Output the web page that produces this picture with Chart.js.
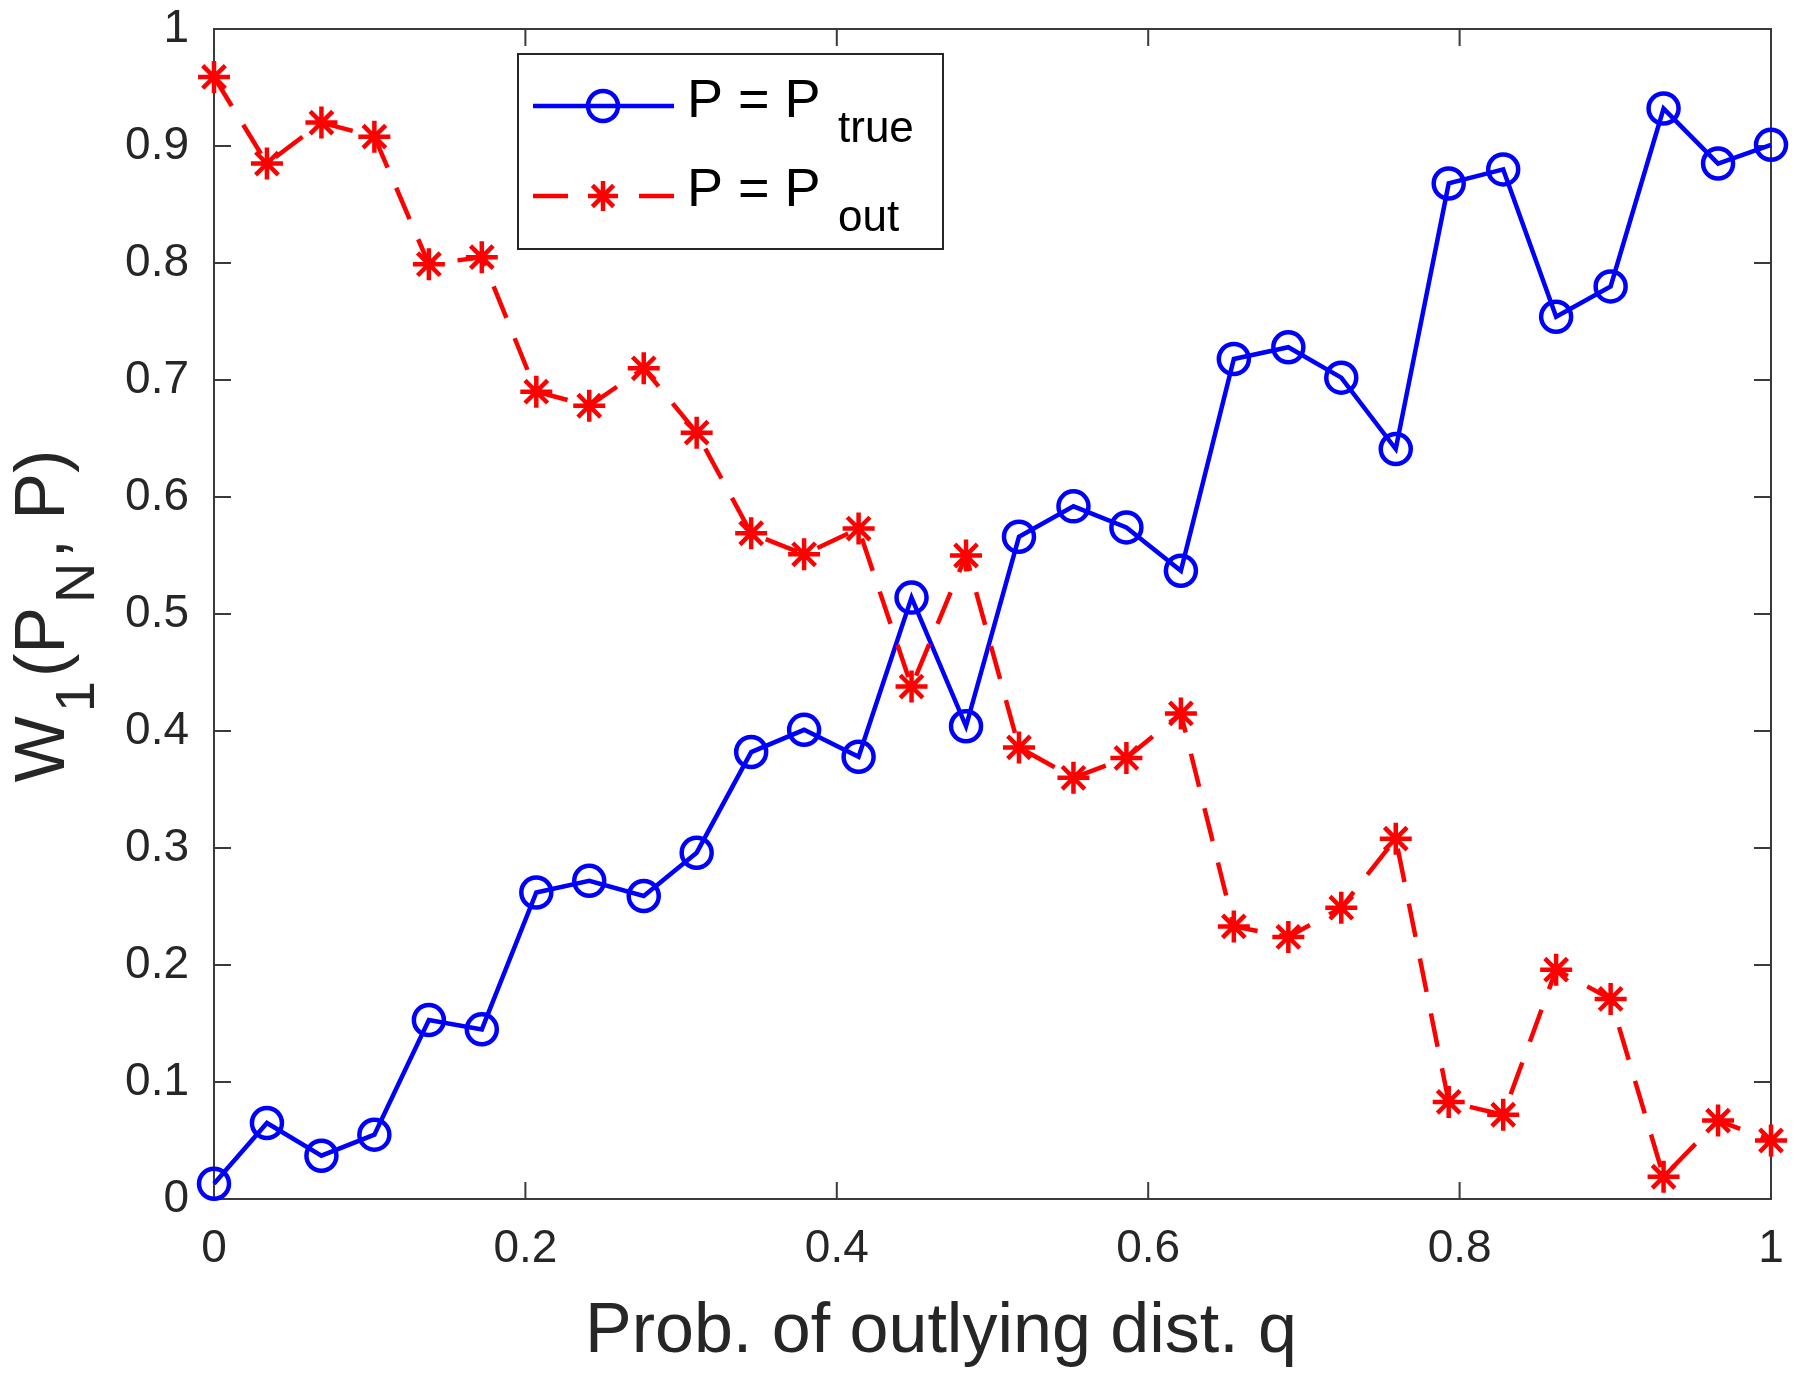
<!DOCTYPE html>
<html>
<head>
<meta charset="utf-8">
<script src="https://cdn.jsdelivr.net/npm/chart.js@4.4.1/dist/chart.umd.min.js"></script>
<style>
  html, body { margin: 0; padding: 0; background: #fff; }
  #wrap { width: 1800px; height: 1378px; }
</style>
</head>
<body>
<div id="wrap"><canvas id="chart" width="1800" height="1378"></canvas></div>
<script>
// data
const qValues = [0, 0.034, 0.069, 0.103, 0.138, 0.172, 0.207, 0.241, 0.276, 0.310,
                 0.345, 0.379, 0.414, 0.448, 0.483, 0.517, 0.552, 0.586, 0.621, 0.655,
                 0.690, 0.724, 0.759, 0.793, 0.828, 0.862, 0.897, 0.931, 0.966, 1];
const wTrue = [0.013, 0.065, 0.037, 0.055, 0.153, 0.145, 0.262, 0.272, 0.259, 0.296,
               0.382, 0.401, 0.378, 0.514, 0.404, 0.566, 0.592, 0.574, 0.537, 0.718,
               0.728, 0.702, 0.641, 0.868, 0.880, 0.754, 0.780, 0.932, 0.885, 0.901];
const wOut = [0.959, 0.885, 0.920, 0.908, 0.799, 0.805, 0.690, 0.678, 0.710, 0.655,
              0.569, 0.551, 0.573, 0.438, 0.550, 0.386, 0.360, 0.377, 0.415, 0.233,
              0.224, 0.249, 0.308, 0.083, 0.072, 0.196, 0.171, 0.019, 0.067, 0.050];
const xTicks = [0, 0.2, 0.4, 0.6, 0.8, 1];
const yTicks = [0, 0.1, 0.2, 0.3, 0.4, 0.5, 0.6, 0.7, 0.8, 0.9, 1];

const FONT = "'Liberation Sans', Arial, Helvetica, sans-serif";
const TXT = "#262626";
const AX = "#3a3a3a";

function fmt(v) { return String(Number(v.toFixed(1))); }

// box, inward ticks on all four sides (matlab style)
const axesBox = {
  id: "axesBox",
  beforeDatasetsDraw(chart) {
    const { ctx, chartArea: a, scales } = chart;
    ctx.save();
    ctx.strokeStyle = AX;
    ctx.lineWidth = 2;
    ctx.strokeRect(a.left, a.top, a.right - a.left, a.bottom - a.top);
    const tl = 17;
    ctx.beginPath();
    xTicks.forEach(v => {
      const px = scales.x.getPixelForValue(v);
      ctx.moveTo(px, a.bottom); ctx.lineTo(px, a.bottom - tl);
      ctx.moveTo(px, a.top); ctx.lineTo(px, a.top + tl);
    });
    yTicks.forEach(v => {
      const py = scales.y.getPixelForValue(v);
      ctx.moveTo(a.left, py); ctx.lineTo(a.left + tl, py);
      ctx.moveTo(a.right, py); ctx.lineTo(a.right - tl, py);
    });
    ctx.stroke();
    ctx.restore();
  }
};

// draws text pieces in a row, sub=true pieces are lowered and smaller
function drawRich(ctx, parts, x, y, big, small, drop, gap) {
  let cx = x;
  parts.forEach(p => {
    ctx.font = (p.sub ? small : big) + "px " + FONT;
    ctx.fillText(p.t, cx, p.sub ? y + drop : y);
    cx += ctx.measureText(p.t).width + gap;
  });
  return cx;
}
function richWidth(ctx, parts, big, small, gap) {
  let w = 0;
  parts.forEach(p => {
    ctx.font = (p.sub ? small : big) + "px " + FONT;
    w += ctx.measureText(p.t).width + gap;
  });
  return w - gap;
}

const labelsAndLegend = {
  id: "labelsAndLegend",
  afterDatasetsDraw(chart) {
    const { ctx } = chart;
    ctx.save();
    ctx.fillStyle = TXT;
    ctx.textBaseline = "alphabetic";
    ctx.textAlign = "left";

    // x title
    ctx.font = "70px " + FONT;
    ctx.textAlign = "center";
    ctx.fillText("Prob. of outlying dist. q", 941, 1352);
    ctx.textAlign = "left";

    // y title W_1(P_N, P)
    const yParts = [{ t: "W" }, { t: "1", sub: true }, { t: "(P" }, { t: "N", sub: true }, { t: ", P)" }];
    const yw = richWidth(ctx, yParts, 70, 56, 4);
    ctx.translate(64, 616);
    ctx.rotate(-Math.PI / 2);
    drawRich(ctx, yParts, -yw / 2, 0, 70, 56, 30, 4);
    ctx.setTransform(1, 0, 0, 1, 0, 0);

    // legend box
    ctx.fillStyle = "#fff";
    ctx.fillRect(518, 54, 425, 195);
    ctx.strokeStyle = TXT;
    ctx.lineWidth = 2;
    ctx.strokeRect(518, 54, 425, 195);

    // row 1 sample
    ctx.strokeStyle = "#0000ff";
    ctx.lineWidth = 4.5;
    ctx.beginPath(); ctx.moveTo(533, 106); ctx.lineTo(674, 106); ctx.stroke();
    ctx.beginPath(); ctx.arc(603, 106, 15, 0, Math.PI * 2); ctx.stroke();

    // row 2 sample
    ctx.strokeStyle = "#ff0000";
    ctx.beginPath();
    ctx.moveTo(533, 196); ctx.lineTo(568, 196);
    ctx.moveTo(639, 196); ctx.lineTo(674, 196);
    ctx.stroke();
    ctx.beginPath();
    for (let k = 0; k < 4; k++) {
      const ang = k * Math.PI / 4;
      ctx.moveTo(603 - 15 * Math.cos(ang), 196 - 15 * Math.sin(ang));
      ctx.lineTo(603 + 15 * Math.cos(ang), 196 + 15 * Math.sin(ang));
    }
    ctx.stroke();

    ctx.fillStyle = "#000";
    ctx.font = "54px " + FONT;
    ctx.fillText("P = P", 687, 117);
    ctx.fillText("P = P", 687, 206);
    ctx.font = "44px " + FONT;
    ctx.fillText("true", 838, 142);
    ctx.fillText("out", 838, 231);
    ctx.restore();
  }
};

function init() {
  const ctx = document.getElementById("chart").getContext("2d");
  new Chart(ctx, {
    type: "line",
    data: {
      datasets: [
        {
          label: "P = P_true",
          data: qValues.map((q, i) => ({ x: q, y: wTrue[i] })),
          borderColor: "#0000ff",
          backgroundColor: "rgba(0,0,0,0)",
          borderWidth: 4.5,
          pointStyle: "circle",
          pointRadius: 15,
          pointBorderWidth: 4.5,
          pointBorderColor: "#0000ff",
          pointBackgroundColor: "rgba(0,0,0,0)",
          tension: 0,
          clip: false,
          order: 1
        },
        {
          label: "P = P_out",
          data: qValues.map((q, i) => ({ x: q, y: wOut[i] })),
          borderColor: "#ff0000",
          backgroundColor: "rgba(0,0,0,0)",
          borderWidth: 4.5,
          borderDash: [34, 22],
          pointStyle: "star",
          pointRadius: 16,
          pointBorderWidth: 4.5,
          pointBorderColor: "#ff0000",
          pointBackgroundColor: "#ff0000",
          tension: 0,
          clip: false,
          order: 0
        }
      ]
    },
    options: {
      responsive: false,
      animation: false,
      devicePixelRatio: 1,
      layout: { padding: { left: 0, right: 29, top: 29, bottom: 0 } },
      plugins: { legend: { display: false }, tooltip: { enabled: false } },
      scales: {
        x: {
          type: "linear",
          min: 0, max: 1,
          afterBuildTicks: s => { s.ticks = xTicks.map(v => ({ value: v })); },
          afterFit: s => { s.height = 179; s.paddingLeft = 0; s.paddingRight = 0; },
          grid: { display: false },
          border: { display: false },
          ticks: { color: TXT, font: { family: FONT, size: 46 }, padding: 15, maxRotation: 0, callback: v => fmt(v) }
        },
        y: {
          type: "linear",
          min: 0, max: 1,
          afterBuildTicks: s => { s.ticks = yTicks.map(v => ({ value: v })); },
          afterFit: s => { s.width = 214; s.paddingTop = 0; s.paddingBottom = 0; },
          grid: { display: false },
          border: { display: false },
          ticks: { color: TXT, font: { family: FONT, size: 46 }, padding: 17, callback: v => fmt(v) }
        }
      }
    },
    plugins: [axesBox, labelsAndLegend]
  });
}

document.addEventListener("DOMContentLoaded", init);
</script>
</body>
</html>
